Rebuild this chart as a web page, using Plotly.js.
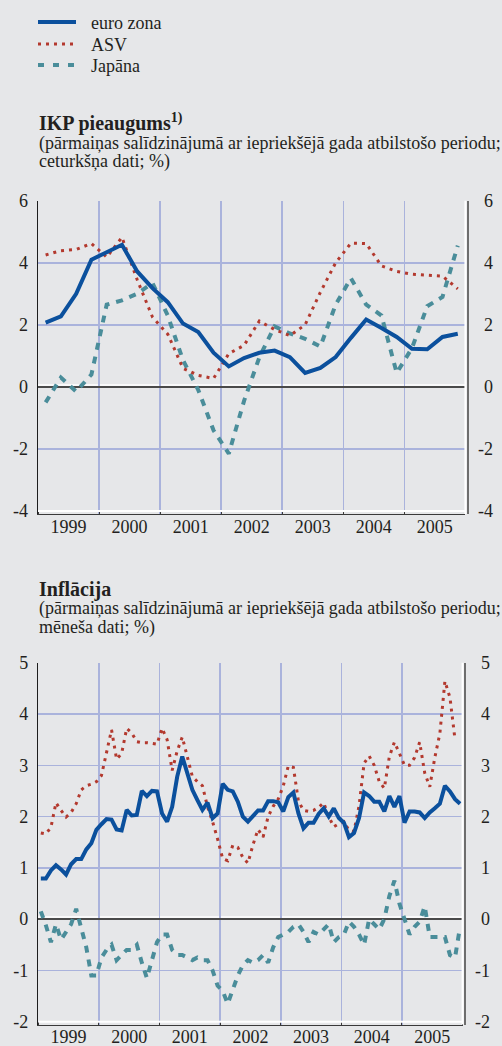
<!DOCTYPE html>
<html>
<head>
<meta charset="utf-8">
<script src="https://cdn.plot.ly/plotly-3.0.1.min.js"></script>
<style>
html,body{margin:0;padding:0;background:#e6e7e9;}
#chart{width:502px;height:1046px;}
</style>
</head>
<body>
<div id="chart"></div>
<script>
// ---------- data ----------
const seriesNames = ['euro zona', 'ASV', 'Japāna'];
const years = [1999, 2000, 2001, 2002, 2003, 2004, 2005];
const yearLabels = ['1999', '2000', '2001', '2002', '2003', '2004', '2005'];

const gdpTicks = [-4, -2, 0, 2, 4, 6];
const infTicks = [-2, -1, 0, 1, 2, 3, 4, 5];

// quarterly GDP growth, 1999Q1 - 2005Q4
const gdpEuro = [2.07, 2.27, 3.0, 4.1, 4.34, 4.58, 3.72, 3.18, 2.73, 2.04, 1.77, 1.1,
                 0.66, 0.93, 1.1, 1.17, 0.96, 0.45, 0.61, 0.96, 1.58, 2.17, 1.9, 1.61,
                 1.23, 1.21, 1.61, 1.71];
const gdpUS   = [4.25, 4.39, 4.43, 4.62, 4.18, 4.82, 3.45, 2.25, 1.7, 0.6, 0.37, 0.27,
                 1.07, 1.34, 2.12, 1.85, 1.65, 2.0, 3.05, 4.0, 4.63, 4.62, 3.9, 3.72,
                 3.63, 3.6, 3.57, 3.16];
const gdpJP   = [-0.5, 0.3, -0.15, 0.4, 2.65, 2.79, 3.0, 3.35, 2.3, 0.86, -0.1, -1.4,
                 -2.15, -0.45, 0.95, 1.95, 1.72, 1.55, 1.3, 2.65, 3.5, 2.65, 2.3, 0.45,
                 1.25, 2.6, 2.9, 4.55];

// monthly inflation, 1999-01 - 2005-12
const infEuro = [0.79, 0.79, 0.95, 1.05, 0.97, 0.87, 1.07, 1.17, 1.17, 1.36, 1.48, 1.74,
                 1.85, 1.95, 1.94, 1.75, 1.73, 2.13, 2.02, 2.03, 2.5, 2.4, 2.5, 2.49,
                 2.06, 1.9, 2.19, 2.78, 3.17, 2.81, 2.52, 2.32, 2.13, 2.27, 1.97, 2.06,
                 2.64, 2.52, 2.49, 2.29, 2.0, 1.9, 2.01, 2.12, 2.12, 2.3, 2.3, 2.28,
                 2.1, 2.38, 2.47, 2.06, 1.77, 1.88, 1.88, 2.05, 2.16, 2.0, 2.16, 1.97,
                 1.88, 1.6, 1.68, 1.97, 2.47, 2.4, 2.29, 2.29, 2.1, 2.4, 2.19, 2.4,
                 1.88, 2.1, 2.1, 2.08, 1.97, 2.08, 2.16, 2.25, 2.6, 2.49, 2.34, 2.25];
const infUS   = [1.68, 1.66, 1.79, 2.27, 2.12, 1.99, 2.08, 2.25, 2.52, 2.6, 2.63, 2.68,
                 2.8, 3.25, 3.69, 3.12, 3.23, 3.72, 3.63, 3.46, 3.44, 3.44, 3.43, 3.41,
                 3.72, 3.5, 2.9, 3.28, 3.55, 3.18, 2.78, 2.68, 2.6, 2.19, 1.9, 1.56,
                 1.18, 1.14, 1.44, 1.4, 1.2, 1.09, 1.45, 1.75, 1.6, 2.0, 2.2, 2.34,
                 2.6, 2.99, 2.96, 2.3, 2.12, 2.1, 2.12, 2.18, 2.27, 2.0, 1.8, 1.86,
                 1.9, 1.73, 1.71, 2.21, 3.04, 3.18, 3.0, 2.68, 2.55, 3.17, 3.45, 3.23,
                 3.0, 3.0, 3.15, 3.45, 2.85, 2.58, 3.15, 3.62, 4.64, 4.32, 3.5];
const infJP   = [0.15, -0.12, -0.45, -0.1, -0.4, -0.25, -0.1, 0.2, -0.15, -0.55, -1.1, -1.1,
                 -0.75, -0.6, -0.5, -0.8, -0.7, -0.6, -0.6, -0.5, -0.85, -1.15, -0.8, -0.45,
                 -0.3, -0.3, -0.6, -0.7, -0.7, -0.75, -0.8, -0.75, -0.8, -0.8, -1.0, -1.3,
                 -1.4, -1.65, -1.35, -1.1, -0.9, -0.8, -0.85, -0.8, -0.7, -0.85, -0.55, -0.35,
                 -0.3, -0.25, -0.15, -0.1, -0.25, -0.45, -0.25, -0.3, -0.2, -0.1, -0.45, -0.35,
                 -0.3, -0.05, -0.15, -0.3, -0.5, 0.0, -0.1, -0.2, 0.0, 0.45, 0.75, 0.3,
                 0.0, -0.3, -0.15, -0.05, 0.25, -0.35, -0.35, -0.35, -0.35, -0.7, -0.75, -0.15];

// ---------- styling ----------
const W = 502, H = 1046;
const px = v => v / W;
const py = v => 1 - v / H;
const FONT = 'Liberation Serif';
const TXT = '#231f20';
const BG = '#e6e7e9';
const GRID = '#aab3dc';
const colors = ['#0b509d', '#b3392e', '#4a8d9a'];
const widths = [4, 3, 4];
const dashes = ['solid', '3px,5px', '7px,7px'];

const qX = n => Array.from({length: n}, (_, i) => 1999 + (i + 0.5) / 4);
const mX = n => Array.from({length: n}, (_, i) => 1999 + (i + 0.5) / 12);

function mk(x, y, k, xa, ya) {
  return {x: x, y: y, type: 'scatter', mode: 'lines', name: seriesNames[k],
          xaxis: xa, yaxis: ya, showlegend: false, hoverinfo: 'skip',
          line: {color: colors[k], width: widths[k], dash: dashes[k]}};
}

const traces = [
  mk(qX(gdpJP.length), gdpJP, 2, 'x', 'y'),
  mk(qX(gdpUS.length), gdpUS, 1, 'x', 'y'),
  mk(qX(gdpEuro.length), gdpEuro, 0, 'x', 'y2'),
  mk(mX(infJP.length), infJP, 2, 'x2', 'y3'),
  mk(mX(infUS.length), infUS, 1, 'x2', 'y3'),
  mk(mX(infEuro.length), infEuro, 0, 'x2', 'y4')
];

const tickfont = {family: FONT, size: 18, color: TXT};
const lab = v => (v < 0 ? '-' + Math.abs(v) : String(v));
const labR = v => (v < 0 ? '-' + Math.abs(v) : '\u2004' + v);

function xAxis(dom, anchor) {
  return {domain: dom, anchor: anchor, range: [1999, 2006], fixedrange: true,
          tickmode: 'array', tickvals: years.map(y => y + 0.5), ticktext: yearLabels,
          ticks: '', showgrid: false, zeroline: false,
          showline: true, linecolor: '#3a3a3a', linewidth: 1,
          tickfont: tickfont, ticklabelstandoff: -4,
          minor: {tickmode: 'linear', tick0: 1999, dtick: 1, ticks: 'inside', ticklen: 3,
                  tickwidth: 1, tickcolor: '#3a3a3a', showgrid: true, gridcolor: GRID, gridwidth: 1.5}};
}
function yLeft(dom, range, ticks, anchor) {
  return {domain: dom, anchor: anchor, range: range, fixedrange: true,
          tickmode: 'array', tickvals: ticks, ticktext: ticks.map(lab),
          ticks: '', showgrid: true, gridcolor: GRID, gridwidth: 1.5,
          zeroline: true, zerolinecolor: '#4a4a4a', zerolinewidth: 2,
          showline: true, linecolor: '#1e1e1e', linewidth: 1.5,
          tickfont: tickfont, ticklabelstandoff: 5};
}
function yRight(over, xa, range, ticks, pos) {
  return {overlaying: over, side: 'right', anchor: 'free', position: pos, range: range,
          fixedrange: true, tickmode: 'array', tickvals: ticks, ticktext: ticks.map(labR),
          ticks: '', showgrid: false, zeroline: false,
          showline: true, linecolor: '#6e6e6e', linewidth: 2,
          tickfont: tickfont, ticklabelstandoff: 6};
}

const topDomY = [py(514.1), py(200.7)];
const botDomY = [py(1024.5), py(662.7)];
const topRange = [-4.1, 6];
const botRange = [-2.055, 5];

function frameShapes(xa, ya, ymin) {
  return [
    {type: 'line', xref: xa + ' domain', x0: 0, x1: 1, yref: ya, y0: ymin, y1: ymin,
     line: {color: '#ffffff', width: 2}, layer: 'above'},
    {type: 'line', xref: xa + ' domain', x0: 1, x1: 1, yref: ya + ' domain', y0: 0, y1: 1,
     line: {color: '#ffffff', width: 2}, layer: 'above'},
    {type: 'line', xref: xa + ' domain', x0: 0, x1: 1, yref: ya, ysizemode: 'pixel', yanchor: 0,
     y0: 2, y1: 2, line: {color: '#ffffff', width: 1.5}, layer: 'below'}
  ];
}

// legend (drawn from series styles)
const legendRows = [22, 44, 65];
const legendShapes = seriesNames.map((n, k) => ({
  type: 'line', xref: 'paper', yref: 'paper', x0: px(38), x1: px(76),
  y0: py(legendRows[k]), y1: py(legendRows[k]),
  line: {color: colors[k], width: widths[k], dash: k === 2 ? '6px,9px' : dashes[k]}
}));
const legendText = seriesNames.map((n, k) => ({
  text: n, xref: 'paper', yref: 'paper', x: px(89), y: py(legendRows[k] + 1),
  xanchor: 'left', yanchor: 'middle', showarrow: false,
  font: {family: FONT, size: 18, color: TXT}
}));

function txt(t, x, y, size) {
  return {text: t, xref: 'paper', yref: 'paper', x: px(x), y: py(y), xanchor: 'left',
          yanchor: 'middle', showarrow: false, font: {family: FONT, size: size, color: TXT}};
}

const annotations = legendText.concat([
  txt('<b>IKP pieaugums<sup>1)</sup></b>', 37, 122.5, 20),
  txt('(pārmaiņas salīdzinājumā ar iepriekšējā gada atbilstošo periodu;', 37, 143, 18),
  txt('ceturkšņa dati; %)', 37, 162, 18),
  txt('<b>Inflācija</b>', 37, 589, 20),
  txt('(pārmaiņas salīdzinājumā ar iepriekšējā gada atbilstošo periodu;', 37, 608.5, 18),
  txt('mēneša dati; %)', 37, 627.5, 18)
]);

const layout = {
  width: W, height: H, margin: {l: 0, r: 0, t: 0, b: 0},
  paper_bgcolor: BG, plot_bgcolor: BG, showlegend: false,
  xaxis: xAxis([px(38), px(465.4)], 'y'),
  yaxis: yLeft(topDomY, topRange, gdpTicks, 'x'),
  yaxis2: yRight('y', 'x', topRange, gdpTicks, px(467.5)),
  xaxis2: xAxis([px(38.3), px(462.6)], 'y3'),
  yaxis3: yLeft(botDomY, botRange, infTicks, 'x2'),
  yaxis4: yRight('y3', 'x2', botRange, infTicks, px(464.5)),
  shapes: frameShapes('x', 'y', -4).concat(frameShapes('x2', 'y3', -2)).concat(legendShapes),
  annotations: annotations
};

Plotly.newPlot('chart', traces, layout, {displayModeBar: false, staticPlot: true});
</script>
</body>
</html>
